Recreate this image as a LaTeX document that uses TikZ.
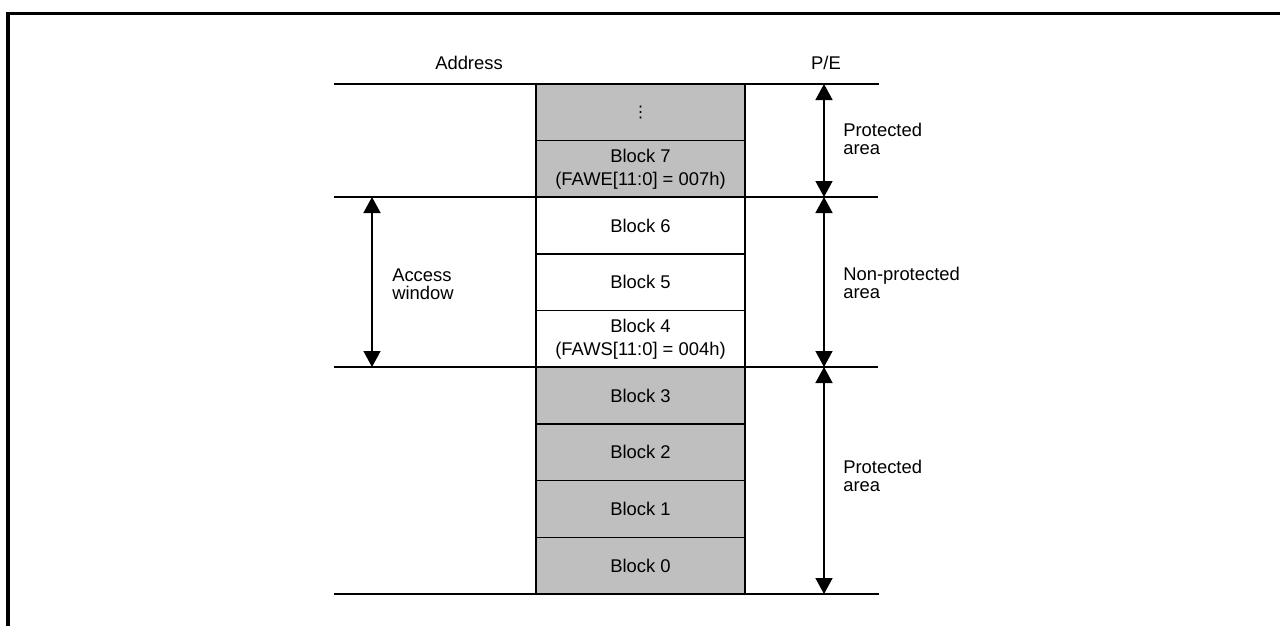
\documentclass[tikz,border=0pt]{standalone}
\usepackage{fontspec}
\setmainfont{Liberation Sans}
\newfontfamily\symfont{DejaVu Sans}
\usetikzlibrary{arrows.meta}
\begin{document}
\begin{tikzpicture}[x=0.75pt,y=-0.75pt,
  blk/.style={draw=black, line width=1.1pt, minimum width=156.75pt, minimum height=42.5pt, inner sep=0pt, align=center, font=\fontsize{13.8pt}{17.5pt}\selectfont},
  prot/.style={blk, fill=black!25},
  free/.style={blk, fill=white},
  sep/.style={line width=1.2pt},
  dim/.style={line width=1.1pt, {Triangle[width=12.75pt,length=12pt]}-{Triangle[width=12.75pt,length=12pt]}},
  lbl/.style={anchor=west, align=left, inner sep=0pt, font=\fontsize{13.8pt}{13.7pt}\selectfont},
  hdr/.style={anchor=base, inner sep=0pt, font=\fontsize{13.8pt}{13.7pt}\selectfont},
  frame/.style={line width=2.4pt}]
\useasboundingbox (0,0) rectangle (1280,626);
% frame
\coordinate (fTL) at (8,13.5);
\coordinate (fTR) at (1280,13.5);
\coordinate (fBL) at (8,626);
\draw[frame] (fBL) -- (fTL) -- (fTR);
% headers
\node[hdr] (addr) at (469,69) {Address};
\node[hdr] (pe) at (826,69) {P/E};
% blocks
\node[prot] (bdots) at (640.5,112.33) {{\symfont\fontsize{12pt}{12pt}\selectfont ⋮}};
\node[prot] (b7) at (640.5,169) {Block 7\\(FAWE[11:0] = 007h)};
\node[free] (b6) at (640.5,225.67) {Block 6};
\node[free] (b5) at (640.5,282.33) {Block 5};
\node[free] (b4) at (640.5,339) {Block 4\\(FAWS[11:0] = 004h)};
\node[prot] (b3) at (640.5,395.67) {Block 3};
\node[prot] (b2) at (640.5,452.33) {Block 2};
\node[prot] (b1) at (640.5,509) {Block 1};
\node[prot] (b0) at (640.5,565.67) {Block 0};
% separator lines
\coordinate (l0a) at (334,84);  \coordinate (l0b) at (879,84);
\coordinate (l1a) at (334,197); \coordinate (l1b) at (878,197);
\coordinate (l2a) at (334,367); \coordinate (l2b) at (878,367);
\coordinate (l3a) at (334,594); \coordinate (l3b) at (879,594);
\draw[sep] (l0a) -- (l0b);
\draw[sep] (l1a) -- (l1b);
\draw[sep] (l2a) -- (l2b);
\draw[sep] (l3a) -- (l3b);
% dimension arrows
\coordinate (p0) at (824,84);
\coordinate (p1) at (824,197);
\coordinate (p2) at (824,367);
\coordinate (p3) at (824,594);
\coordinate (a1) at (372,197);
\coordinate (a2) at (372,367);
\draw[dim] (p0) -- (p1);
\draw[dim] (p1) -- (p2);
\draw[dim] (p2) -- (p3);
\draw[dim] (a1) -- (a2);
% labels
\node[lbl] (lprot1) at (843,139) {Protected\\area};
\node[lbl] (lnon) at (843,283) {Non-protected\\area};
\node[lbl] (lprot2) at (843,476) {Protected\\area};
\node[lbl] (lacc) at (392,284) {Access\\window};
\end{tikzpicture}
\end{document}
